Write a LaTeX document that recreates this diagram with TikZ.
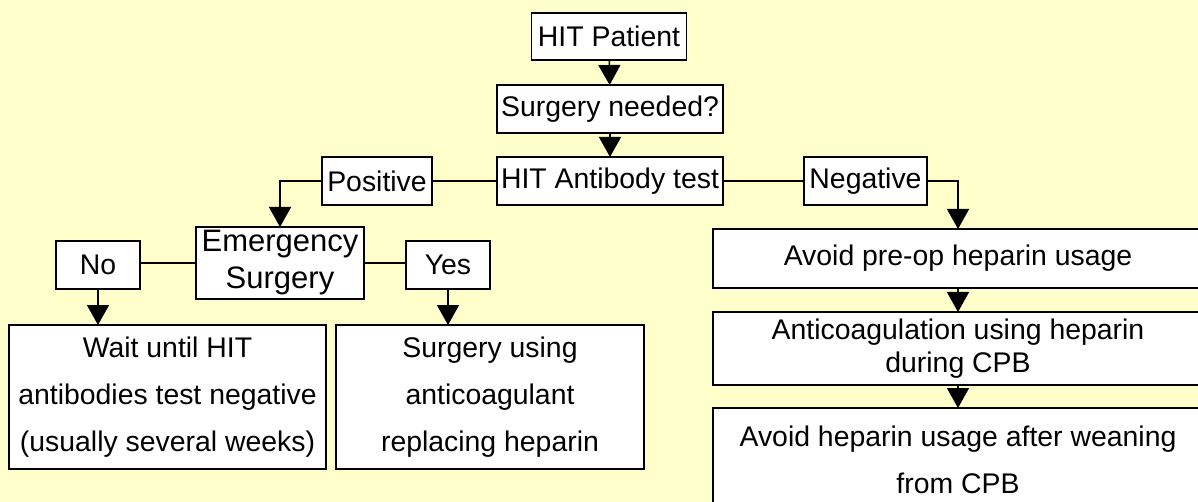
\documentclass[tikz,border=0pt]{standalone}
\usepackage{fontspec}
\setmainfont{Liberation Sans}
\usetikzlibrary{arrows.meta}
\definecolor{bgyellow}{HTML}{FFFFCC}
\tikzset{
  box/.style={draw=black, fill=white, line width=1.8pt, inner sep=0pt, outer sep=0pt, align=center,
    font=\fontsize{28.4pt}{34pt}\selectfont},
  conn/.style={line width=1.5pt},
  arr/.style={line width=1.5pt, -{Triangle[width=22pt,length=20pt]}},
}
\begin{document}
\begin{tikzpicture}[x=1pt, y=-1pt]
\fill[bgyellow] (0,0) rectangle (1198,502);
\useasboundingbox (0,0) rectangle (1198,502);
\node[box, minimum width=155pt, minimum height=47pt] (hitp) at (609,36.5) {HIT Patient};
\node[box, minimum width=226pt, minimum height=48pt] (sn) at (610,109) {Surgery needed?};
\node[box, minimum width=226pt, minimum height=48pt] (hat) at (610,181) {HIT Antibody test};
\node[box, minimum width=110pt, minimum height=48pt] (pos) at (377,181) {Positive};
\node[box, minimum width=123pt, minimum height=48pt] (neg) at (865.5,181) {Negative};
\node[box, minimum width=168pt, minimum height=72pt, font=\fontsize{31pt}{37pt}\selectfont] (es) at (280,263) {Emergency\\Surgery};
\node[box, minimum width=84pt, minimum height=48pt] (no) at (98,265) {No};
\node[box, minimum width=84pt, minimum height=48pt] (yes) at (448,265) {Yes};
\node[box, minimum width=317pt, minimum height=144pt, font=\fontsize{28.4pt}{47pt}\selectfont] (wait) at (167.5,397) {Wait until HIT\\antibodies test negative\\(usually several weeks)};
\node[box, minimum width=308pt, minimum height=144pt, font=\fontsize{28.4pt}{47pt}\selectfont] (surg) at (490,397) {Surgery using\\anticoagulant\\replacing heparin};
\node[box, minimum width=490pt, minimum height=59pt] (apo) at (958,258.5) {Avoid pre-op heparin usage};
\node[box, minimum width=490pt, minimum height=73pt, font=\fontsize{28.4pt}{33pt}\selectfont] (ac) at (958,348.5) {Anticoagulation using heparin\\during CPB};
\node[box, minimum width=490pt, minimum height=104pt, font=\fontsize{28.4pt}{47pt}\selectfont] (ah) at (958,460) {Avoid heparin usage after weaning\\from CPB};
\draw[arr] (hitp) -- (sn);
\draw[arr] (sn) -- (hat);
\draw[conn] (hat.west) -- (pos.east);
\draw[conn] (hat.east) -- (neg.west);
\draw[arr] (pos.west) -| (es.north);
\draw[arr] (neg.east) -| (apo.north);
\draw[conn] (es.west) -- (es.west -| no.east);
\draw[conn] (es.east) -- (es.east -| yes.west);
\draw[arr] (no.south) -- (no.south |- wait.north);
\draw[arr] (yes.south) -- (yes.south |- surg.north);
\draw[arr] (apo) -- (ac);
\draw[arr] (ac) -- (ah);
\end{tikzpicture}
\end{document}
